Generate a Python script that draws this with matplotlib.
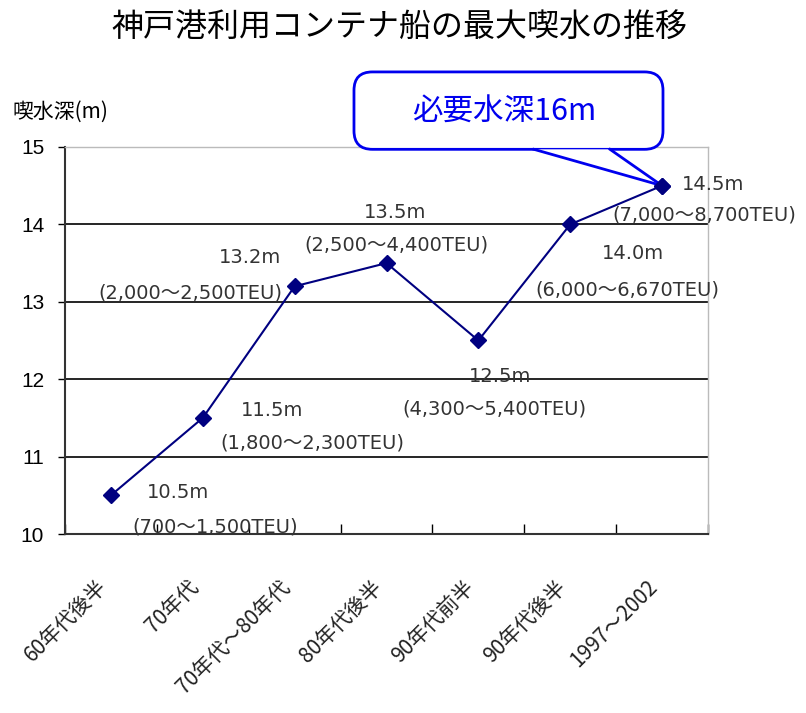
import matplotlib
matplotlib.use('Agg')
import matplotlib.pyplot as plt
from matplotlib.patches import FancyBboxPatch, Polygon
from matplotlib.lines import Line2D
import numpy as np

plt.rcParams['font.family'] = ['Noto Sans CJK JP', 'DejaVu Sans']
lab_font = ['DejaVu Sans', 'Noto Sans CJK JP']

# データ
periods = ['60年代後半', '70年代', '70年代～80年代', '80年代後半',
           '90年代前半', '90年代後半', '1997～2002']
draft = [10.5, 11.5, 13.2, 13.5, 12.5, 14.0, 14.5]
teu = ['(700～1,500TEU)', '(1,800～2,300TEU)', '(2,000～2,500TEU)',
       '(2,500～4,400TEU)', '(4,300～5,400TEU)', '(6,000～6,670TEU)',
       '(7,000～8,700TEU)']

# ラベル位置（点からのずれ）: 値ラベル と TEUラベル
lab_off = [(0.73, 0.03), (0.75, 0.09), (-0.49, 0.37), (0.09, 0.65),
           (0.24, -0.46), (0.68, -0.38), (0.55, 0.02)]
teu_off = [(1.13, -0.41), (1.19, -0.32), (-1.14, -0.09), (0.11, 0.23),
           (0.18, -0.89), (0.62, -0.85), (0.46, -0.38)]

fig = plt.figure(figsize=(8.06, 7.13), dpi=100)
ax = fig.add_axes([65/806, 1 - 534/713, 643/806, 387/713])

x = np.arange(len(draft))
ax.plot(x, draft, color='#000080', lw=1.5, marker='D', ms=8, zorder=3)

ax.set_xlim(-0.5, len(draft) - 0.5)
ax.set_ylim(10, 15)
ax.set_yticks([10, 11, 12, 13, 14, 15])
ax.tick_params(axis='y', labelsize=15, length=5, width=1, pad=10)
for t in ax.get_yticklabels():
    t.set_fontfamily(['Liberation Sans Narrow', 'Liberation Sans', 'DejaVu Sans'])

for yv in [11, 12, 13, 14]:
    ax.axhline(yv, color='black', lw=1.2, zorder=1)

ax.set_xticks(x)
ax.set_xticklabels(periods, rotation=45, ha='right', va='top', fontsize=15,
                   color='#222222')
ax.tick_params(axis='x', length=0, pad=30)
ax.set_xticks(np.arange(-0.5, len(draft)), minor=True)
ax.tick_params(axis='x', which='minor', direction='in', length=7, width=1)

for s in ['left', 'bottom']:
    ax.spines[s].set_color('#333333')
    ax.spines[s].set_linewidth(1.5)
for s in ['top', 'right']:
    ax.spines[s].set_color('#bbbbbb')
    ax.spines[s].set_linewidth(1)

# データラベル
for i in range(len(draft)):
    ax.text(x[i] + lab_off[i][0], draft[i] + lab_off[i][1], f'{draft[i]:.1f}m',
            ha='center', va='center', fontsize=14, color='#333333',
            family=lab_font)
    ax.text(x[i] + teu_off[i][0], draft[i] + teu_off[i][1], teu[i],
            ha='center', va='center', fontsize=14, color='#333333',
            family=lab_font)

# タイトル
fig.text(0.496, 1 - 27/713, '神戸港利用コンテナ船の最大喫水の推移',
         ha='center', va='center', fontsize=23)
fig.text(12/806, 1 - 112/713, '喫水深(m)', ha='left', va='center', fontsize=15)

# 吹き出し
bx0, bx1, by0, by1 = 2.646, 6.01, 14.97, 15.97
box = FancyBboxPatch((bx0, by0), bx1 - bx0, by1 - by0,
                     boxstyle='round,pad=0,rounding_size=0.2',
                     mutation_aspect=1.19, fc='white', ec='#0000ee', lw=2,
                     clip_on=False, zorder=5)
ax.add_patch(box)
tip = (x[-1], draft[-1])
poly = Polygon([(4.605, by0), (5.433, by0), tip], closed=True, fc='white',
               ec='none', clip_on=False, zorder=6)
ax.add_patch(poly)
for px in [4.605, 5.433]:
    ax.add_line(Line2D([px, tip[0]], [by0, tip[1]], color='#0000ee', lw=2,
                       clip_on=False, zorder=7))
ax.plot(x[-1:], draft[-1:], color='#000080', marker='D', ms=8, zorder=8,
        clip_on=False)
ax.text((bx0 + bx1) / 2 - 0.05, (by0 + by1) / 2 - 0.02, '必要水深16m',
        ha='center', va='center', fontsize=22, color='#0000ee', zorder=8)

fig.savefig('out.png', dpi=100)
